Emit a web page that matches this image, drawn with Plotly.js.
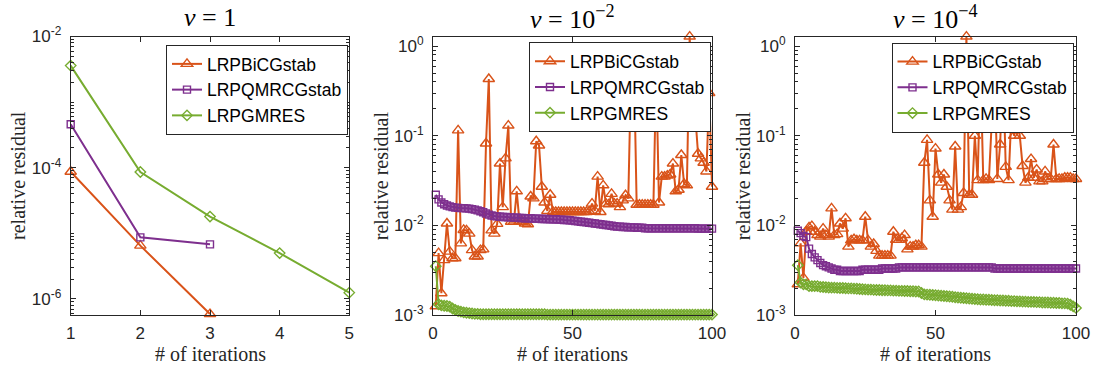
<!DOCTYPE html>
<html>
<head>
<meta charset="utf-8">
<script src="https://cdn.plot.ly/plotly-3.0.1.min.js"></script>
<style>
  html, body { margin: 0; padding: 0; background: #fff; }
  #chart { width: 1093px; height: 371px; }
</style>
</head>
<body>
<div id="chart"></div>
<script>
// ---- data: relative residual per iteration ----
const seriesNames = ['LRPBiCGstab', 'LRPQMRCGstab', 'LRPGMRES'];
const panelTitles = ['<i>ν</i> = 1', '<i>ν</i> = 10<sup>−2</sup>', '<i>ν</i> = 10<sup>−4</sup>'];
const xLabel = '# of iterations';
const yLabel = 'relative residual';

// nu = 1
const iterA = [1, 2, 3, 4, 5];
const bicgA = [8.7e-5, 6.5e-6, 5.9e-7];
const qmrA = [4.6e-4, 8.7e-6, 6.8e-6];
const gmresA = [3.6e-3, 8.6e-5, 1.8e-5, 5.0e-6, 1.25e-6];

// nu = 1e-2
const bicgB = [
  0.00125, 0.0049, 0.00175, 0.0041, 0.0105, 0.0051, 0.0043, 0.0043, 0.115, 0.0063,
  0.0089, 0.0088, 0.0081, 0.0053, 0.0045, 0.0045, 0.0053, 0.0054, 0.082, 0.43,
  0.0088, 0.0081, 0.0104, 0.049, 0.016, 0.056, 0.13, 0.011, 0.011, 0.024,
  0.011, 0.011, 0.0105, 0.0103, 0.021, 0.020, 0.087, 0.078, 0.027, 0.018,
  0.0145, 0.022, 0.0142, 0.0141, 0.0141, 0.0141, 0.0141, 0.0141, 0.0141, 0.0141,
  0.0141, 0.0141, 0.0141, 0.0141, 0.0141, 0.0142, 0.0175, 0.0145, 0.035, 0.0141,
  0.028, 0.0175, 0.0172, 0.0225, 0.0175, 0.0175, 0.016, 0.019, 0.0217, 0.020,
  0.55, 0.70, 0.017, 0.017, 0.017, 0.017, 0.017, 0.017, 0.017, 0.50,
  0.018, 0.035, 0.035, 0.036, 0.037, 0.049, 0.024, 0.025, 0.061, 0.029,
  0.028, 1.28, 0.18, 0.17, 0.063, 0.056, 0.05, 0.04, 0.30, 0.027
];
const qmrB = [
  0.022, 0.0195, 0.018, 0.0172, 0.0167, 0.0163, 0.016, 0.0158, 0.0157, 0.0156,
  0.0156, 0.0155, 0.0154, 0.0152, 0.015, 0.0147, 0.0144, 0.014, 0.0136, 0.0132,
  0.0129, 0.0127, 0.0126, 0.0125, 0.0124, 0.0124, 0.0123, 0.0123, 0.0122, 0.0122,
  0.0121, 0.0121, 0.012, 0.012, 0.012, 0.0119, 0.0119, 0.0119, 0.0118, 0.0118,
  0.0118, 0.0117, 0.0117, 0.0117, 0.0116, 0.0116, 0.0115, 0.0115, 0.0114, 0.0113,
  0.0112, 0.0111, 0.011, 0.0109, 0.0108, 0.0107, 0.0106, 0.0105, 0.0104, 0.0103,
  0.0102, 0.0101, 0.01, 0.0099, 0.0098, 0.0097, 0.0097, 0.0096, 0.0096, 0.0095,
  0.0095, 0.0095, 0.0094, 0.0094, 0.0094, 0.0093, 0.0093, 0.0093, 0.0093, 0.0093,
  0.0093, 0.0093, 0.0093, 0.0093, 0.0093, 0.0093, 0.0093, 0.0093, 0.0093, 0.0093,
  0.0093, 0.0093, 0.0093, 0.0093, 0.0092, 0.0092, 0.0092, 0.0092, 0.0092, 0.0092
];
const gmresB = [
  0.0035, 0.00132, 0.00128, 0.00127, 0.00126, 0.00124, 0.00118, 0.00114, 0.00111, 0.00109,
  0.00107, 0.00106, 0.00105, 0.00104, 0.00103, 0.00103, 0.00102, 0.00102, 0.00102, 0.00102,
  0.00102, 0.00102, 0.00102, 0.00102, 0.00102, 0.00102, 0.00102, 0.00102, 0.00102, 0.00102,
  0.00102, 0.00102, 0.00102, 0.00102, 0.00102, 0.00102, 0.00102, 0.00102, 0.00102, 0.00102,
  0.00101, 0.00101, 0.00101, 0.00101, 0.00101, 0.00101, 0.00101, 0.00101, 0.00101, 0.00101,
  0.00101, 0.00101, 0.00101, 0.00101, 0.00101, 0.00101, 0.00101, 0.00101, 0.00101, 0.00101,
  0.00101, 0.00101, 0.00101, 0.00101, 0.00101, 0.00101, 0.00101, 0.00101, 0.00101, 0.00101,
  0.00101, 0.00101, 0.00101, 0.00101, 0.00101, 0.00101, 0.00101, 0.00101, 0.00101, 0.00101,
  0.00101, 0.00101, 0.00101, 0.00101, 0.00101, 0.00101, 0.00101, 0.00101, 0.00101, 0.00101,
  0.00101, 0.00101, 0.00101, 0.00101, 0.00101, 0.00101, 0.00101, 0.00101, 0.00101, 0.00101
];

// nu = 1e-4
const bicgC = [
  0.0022, 0.0063, 0.0026, 0.0085, 0.0095, 0.0098, 0.0085, 0.0078, 0.0075, 0.0092,
  0.0078, 0.0075, 0.0155, 0.0078, 0.008, 0.0105, 0.0092, 0.012, 0.0058, 0.0068,
  0.007, 0.0068, 0.0068, 0.0068, 0.0125, 0.0068, 0.0058, 0.0062, 0.0052, 0.0046,
  0.0046, 0.0046, 0.0046, 0.0046, 0.0085, 0.0069, 0.0069, 0.0072, 0.0078, 0.0054,
  0.0058, 0.0058, 0.006, 0.006, 0.0058, 0.05, 0.09, 0.019, 0.0125, 0.072,
  0.037, 0.03, 0.037, 0.027, 0.019, 0.015, 0.076, 0.015, 0.016, 0.023,
  1.28, 0.022, 0.022, 0.10, 0.032, 0.6, 0.032, 0.033, 0.032, 0.15,
  0.6, 0.033, 0.08, 0.6, 0.045, 0.032, 0.17, 0.10, 0.17, 0.10,
  0.046, 0.03, 0.034, 0.055, 0.034, 0.042, 0.031, 0.031, 0.04, 0.033,
  0.033, 0.08, 0.033, 0.033, 0.033, 0.034, 0.034, 0.034, 0.033, 0.033
];
const qmrC = [
  0.0087, 0.0082, 0.0076, 0.0074, 0.0055, 0.0048, 0.0044, 0.0041, 0.0038, 0.0036,
  0.0035, 0.0034, 0.0033, 0.0032, 0.0032, 0.0031, 0.0031, 0.0031, 0.0031, 0.0031,
  0.0031, 0.0031, 0.0031, 0.0032, 0.0032, 0.0032, 0.0032, 0.0032, 0.0032, 0.0032,
  0.0033, 0.0033, 0.0033, 0.0033, 0.0033, 0.0033, 0.0034, 0.0034, 0.0034, 0.0034,
  0.0034, 0.0034, 0.0034, 0.0034, 0.0034, 0.0034, 0.0034, 0.0034, 0.0034, 0.0034,
  0.0034, 0.0034, 0.0034, 0.0034, 0.0034, 0.0034, 0.0034, 0.0034, 0.0034, 0.0034,
  0.0034, 0.0034, 0.0034, 0.0034, 0.0034, 0.0034, 0.0034, 0.0034, 0.0034, 0.0034,
  0.0033, 0.0033, 0.0033, 0.0033, 0.0033, 0.0033, 0.0033, 0.0033, 0.0033, 0.0033,
  0.0033, 0.0033, 0.0033, 0.0033, 0.0033, 0.0033, 0.0033, 0.0033, 0.0033, 0.0033,
  0.0033, 0.0033, 0.0033, 0.0033, 0.0033, 0.0033, 0.0033, 0.0033, 0.0033, 0.0033
];
const gmresC = [
  0.0036, 0.0023, 0.0022, 0.0022, 0.0021, 0.0021, 0.0021, 0.0021, 0.00206, 0.00205,
  0.00204, 0.00203, 0.00202, 0.00202, 0.00201, 0.002, 0.002, 0.00199, 0.00198, 0.00198,
  0.00197, 0.00196, 0.00195, 0.00194, 0.00193, 0.00192, 0.00192, 0.00191, 0.0019, 0.0019,
  0.00189, 0.00189, 0.00188, 0.00188, 0.00187, 0.00187, 0.00186, 0.00186, 0.00185, 0.00185,
  0.00184, 0.00184, 0.00183, 0.00183, 0.00176, 0.0017, 0.00169, 0.00168, 0.00167, 0.00166,
  0.00165, 0.00164, 0.00163, 0.00162, 0.00161, 0.0016, 0.00158, 0.00157, 0.00156, 0.00155,
  0.00154, 0.00153, 0.00152, 0.00151, 0.0015, 0.00149, 0.00149, 0.00148, 0.00148, 0.00147,
  0.00146, 0.00146, 0.00145, 0.00145, 0.00144, 0.00144, 0.00143, 0.00143, 0.00142, 0.00142,
  0.00141, 0.00141, 0.0014, 0.0014, 0.0014, 0.00139, 0.00139, 0.00138, 0.00138, 0.00138,
  0.00137, 0.00137, 0.00136, 0.00136, 0.00135, 0.00135, 0.00134, 0.0013, 0.00125, 0.0012
];

// ---- styling ----
const W = 1093, H = 371;
const colors = ['#D95319', '#7E2F8E', '#77AC30'];
const symbols = ['triangle-up-open', 'square-open', 'diamond-open'];
const symbolSizes = [10, 7, 8];
const axisColor = '#262626';
const sans = 'Liberation Sans, Arial, sans-serif';
const serif = 'Liberation Serif, Times New Roman, serif';

const iters = n => Array.from({ length: n }, (_, k) => k + 1);

// plot-area boxes in pixels: [left, right]
const boxes = [[70.7, 349.3], [433, 712], [795, 1076]];
const plotTop = 36.5, plotBottom = 315;
const legendPos = [[166, 45], [529, 42.3], [891.5, 42.7]];

const panels = [
  { x: iterA, series: [bicgA, qmrA, gmresA], xrange: [1, 5], xticks: [1, 2, 3, 4, 5],
    yrange: [-6.244, -2], labelled: [-6, -4, -2] },
  { x: null, series: [bicgB, qmrB, gmresB], xrange: [0, 100], xticks: [0, 50, 100],
    yrange: [-3, 0.108], labelled: [-3, -2, -1, 0] },
  { x: null, series: [bicgC, qmrC, gmresC], xrange: [0, 100], xticks: [0, 50, 100],
    yrange: [-3, 0.108], labelled: [-3, -2, -1, 0] }
];

const traces = [];
const layout = {
  width: W, height: H,
  margin: { l: 0, r: 0, t: 0, b: 0 },
  paper_bgcolor: '#fff', plot_bgcolor: '#fff',
  showlegend: true,
  annotations: []
};

panels.forEach((p, i) => {
  const sfx = i === 0 ? '' : String(i + 1);
  const legendId = 'legend' + sfx;
  p.series.forEach((vals, s) => {
    traces.push({
      type: 'scatter', mode: 'lines+markers',
      x: p.x ? p.x.slice(0, vals.length) : iters(vals.length),
      y: vals,
      name: seriesNames[s],
      xaxis: 'x' + sfx, yaxis: 'y' + sfx,
      legend: legendId,
      cliponaxis: false,
      line: { color: colors[s], width: 2 },
      marker: { symbol: symbols[s], size: symbolSizes[s], color: colors[s],
                line: { color: colors[s], width: 1.4 } }
    });
  });

  const [l, r] = boxes[i];
  // log minor ticks: 2..9 within each decade, plus unlabelled decades
  const minors = [];
  for (let d = Math.floor(p.yrange[0]); d < Math.ceil(p.yrange[1]); d++) {
    if (!p.labelled.includes(d)) minors.push(Math.pow(10, d));
    for (let m = 2; m <= 9; m++) minors.push(m * Math.pow(10, d));
  }
  const common = {
    showline: true, linecolor: axisColor, linewidth: 1,
    mirror: 'allticks', ticks: 'inside', tickcolor: axisColor, tickwidth: 1,
    showgrid: false, zeroline: false,
    tickfont: { family: sans, size: 17, color: axisColor }
  };
  layout['xaxis' + sfx] = Object.assign({}, common, {
    domain: [l / W, r / W], anchor: 'y' + sfx,
    range: p.xrange, tickmode: 'array', tickvals: p.xticks, ticklen: 5,
    ticklabelstandoff: 3
  });
  layout['yaxis' + sfx] = Object.assign({}, common, {
    domain: [1 - plotBottom / H, 1 - plotTop / H], anchor: 'x' + sfx,
    type: 'log', range: p.yrange,
    tickmode: 'array',
    tickvals: p.labelled.map(d => Math.pow(10, d)),
    ticktext: p.labelled.map(d => '10<sup>' + d + '</sup>'),
    ticklen: 5, ticklabelstandoff: 5,
    minor: { tickmode: 'array', tickvals: minors, ticks: 'inside', ticklen: 3,
             tickcolor: axisColor, tickwidth: 1 }
  });
  layout[legendId] = {
    x: legendPos[i][0] / W, y: 1 - legendPos[i][1] / H,
    xanchor: 'left', yanchor: 'top',
    bgcolor: '#fff', bordercolor: axisColor, borderwidth: 1,
    font: { family: sans, size: 17.5, color: '#000' },
    tracegroupgap: 0, itemwidth: 30
  };

  const cx = (l + r) / 2 / W;
  layout.annotations.push(
    { text: panelTitles[i], xref: 'paper', yref: 'paper', x: cx, y: 1 - 17 / H,
      xanchor: 'center', yanchor: 'middle', showarrow: false,
      font: { family: serif, size: 26, color: '#000' } },
    { text: xLabel, xref: 'paper', yref: 'paper', x: cx, y: 1 - 354 / H,
      xanchor: 'center', yanchor: 'middle', showarrow: false,
      font: { family: serif, size: 20, color: axisColor } },
    { text: yLabel, xref: 'paper', yref: 'paper', x: (l - 52.5) / W,
      y: 1 - ((plotTop + plotBottom) / 2) / H,
      xanchor: 'center', yanchor: 'middle', textangle: -90, showarrow: false,
      font: { family: serif, size: 20, color: axisColor } }
  );
});

Plotly.newPlot('chart', traces, layout, { displayModeBar: false, staticPlot: true });
</script>
</body>
</html>
